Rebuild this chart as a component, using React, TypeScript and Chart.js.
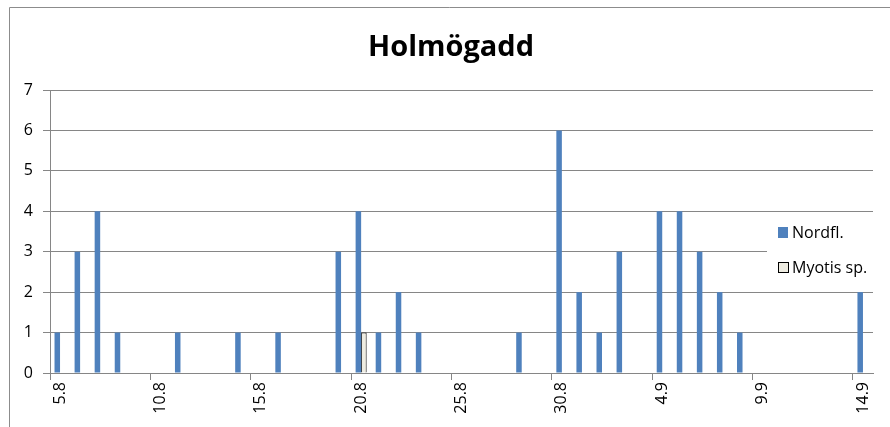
import React, { useEffect, useRef } from "react";
import { Chart, registerables } from "chart.js";

Chart.register(...registerables);

const titleText = "Holmögadd";
const dateLabels = [
  "5.8", "6.8", "7.8", "8.8", "9.8", "10.8", "11.8", "12.8", "13.8", "14.8",
  "15.8", "16.8", "17.8", "18.8", "19.8", "20.8", "21.8", "22.8", "23.8", "24.8",
  "25.8", "26.8", "27.8", "28.8", "29.8", "30.8", "31.8", "1.9", "2.9", "3.9",
  "4.9", "5.9", "6.9", "7.9", "8.9", "9.9", "10.9", "11.9", "12.9", "13.9", "14.9",
];
const nordflValues = [
  1, 3, 4, 1, 0, 0, 1, 0, 0, 1,
  0, 1, 0, 0, 3, 4, 1, 2, 1, 0,
  0, 0, 0, 1, 0, 6, 2, 1, 3, 0,
  4, 4, 3, 2, 1, 0, 0, 0, 0, 0, 2,
];
const myotisValues = [
  0, 0, 0, 0, 0, 0, 0, 0, 0, 0,
  0, 0, 0, 0, 0, 1, 0, 0, 0, 0,
  0, 0, 0, 0, 0, 0, 0, 0, 0, 0,
  0, 0, 0, 0, 0, 0, 0, 0, 0, 0, 0,
];
const seriesNames = ["Nordfl.", "Myotis sp."];

const FONT = "'Open Sans', 'Liberation Sans', sans-serif";
const GRID = "#868686";
const BLUE = "#4F81BD";
const MYOTIS = "#EEECE1";

export default function App() {
  const ref = useRef<HTMLCanvasElement | null>(null);

  useEffect(() => {
    document.body.style.margin = "0";
    const canvas = ref.current;
    if (!canvas) return;

    const framePlugin = {
      id: "frame",
      beforeDraw(chart: any) {
        const c = chart.ctx;
        c.save();
        c.fillStyle = "#ffffff";
        c.fillRect(0, 0, chart.width, chart.height);
        c.strokeStyle = "#8c8c8c";
        c.lineWidth = 1;
        c.beginPath();
        c.moveTo(9.5, chart.height);
        c.lineTo(9.5, 7.5);
        c.lineTo(chart.width, 7.5);
        c.stroke();
        c.fillStyle = "#000000";
        c.font = `bold 29px ${FONT}`;
        c.textAlign = "center";
        c.textBaseline = "alphabetic";
        c.fillText(titleText, 451, 56);
        c.restore();
      },
      afterDraw(chart: any) {
        const c = chart.ctx;
        c.save();
        c.fillStyle = "#ffffff";
        c.fillRect(767, 218, 120, 66);
        c.font = `16px ${FONT}`;
        c.textBaseline = "middle";
        c.textAlign = "left";
        c.fillStyle = BLUE;
        c.fillRect(778, 227, 10, 11);
        c.fillStyle = "#000";
        c.fillText(seriesNames[0], 792, 233);
        c.fillStyle = MYOTIS;
        c.fillRect(778.5, 262.5, 10, 10);
        c.strokeStyle = "#000";
        c.lineWidth = 1;
        c.strokeRect(778.5, 262.5, 10, 10);
        c.fillStyle = "#000";
        c.fillText(seriesNames[1], 792, 268);
        c.restore();
      },
    };

    const chart = new Chart(canvas, {
      type: "bar",
      data: {
        labels: dateLabels,
        datasets: [
          {
            label: seriesNames[0],
            data: nordflValues.map((v) => (v === 0 ? null : v)),
            backgroundColor: BLUE,
            borderWidth: 0,
            categoryPercentage: 0.55,
            barPercentage: 1.0,
          },
          {
            label: seriesNames[1],
            data: myotisValues.map((v) => (v === 0 ? null : v)),
            backgroundColor: MYOTIS,
            borderColor: "#000000",
            borderWidth: 1,
            categoryPercentage: 0.55,
            barPercentage: 1.0,
          },
        ],
      },
      options: {
        animation: false,
        responsive: false,
        maintainAspectRatio: false,
        layout: { padding: { top: 90, left: 0, right: 17, bottom: 0 } },
        plugins: {
          legend: { display: false },
          title: { display: false },
          tooltip: { enabled: false },
        },
        scales: {
          x: {
            offset: true,
            afterFit: (s: any) => {
              s.height = 54;
            },
            grid: {
              offset: true,
              drawOnChartArea: false,
              drawTicks: true,
              tickLength: 7,
              tickColor: (ctx: any) => (ctx.index % 5 === 0 ? GRID : "rgba(0,0,0,0)"),
              color: GRID,
            },
            border: { display: true, color: GRID, width: 1 },
            ticks: {
              autoSkip: false,
              maxRotation: 90,
              minRotation: 90,
              padding: 2,
              color: "#000",
              font: { family: FONT, size: 16 },
              callback: (_v: any, i: number) => (i % 5 === 0 ? dateLabels[i] : ""),
            },
          },
          y: {
            min: 0,
            max: 7,
            afterFit: (s: any) => {
              s.width = 50;
            },
            grid: {
              color: GRID,
              drawTicks: true,
              tickLength: 7,
              tickColor: GRID,
            },
            border: { display: true, color: GRID, width: 1 },
            ticks: {
              stepSize: 1,
              padding: 10,
              color: "#000",
              font: { family: FONT, size: 16 },
            },
          },
        },
      },
      plugins: [framePlugin],
    });

    return () => chart.destroy();
  }, []);

  return (
    <div style={{ position: "fixed", left: 0, top: 0, width: 890, height: 427 }}>
      <canvas ref={ref} width={890} height={427} style={{ width: 890, height: 427, display: "block" }} />
    </div>
  );
}
